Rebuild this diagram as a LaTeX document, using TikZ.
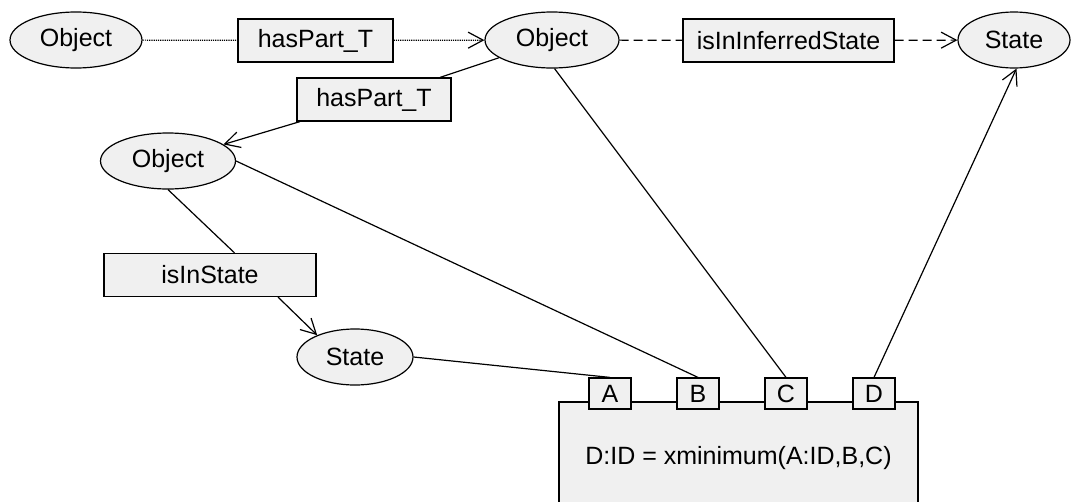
\documentclass[tikz,border=0pt]{standalone}
\usepackage{fontspec}
\setmainfont{Liberation Sans}
\usetikzlibrary{arrows.meta, shapes.geometric}

\definecolor{boxgray}{RGB}{240,240,240}

\tikzset{
  concept/.style={ellipse, draw, fill=boxgray, line width=1.2pt, inner sep=0pt,
    minimum height=56pt, font=\fontsize{25}{30}\selectfont},
  relation/.style={rectangle, draw, fill=boxgray, line width=1.2pt, inner sep=0pt,
    minimum height=43pt, font=\fontsize{25}{30}\selectfont},
  port/.style={rectangle, draw, fill=boxgray, line width=1.2pt, inner sep=0pt,
    minimum width=42pt, minimum height=31pt, font=\fontsize{25}{30}\selectfont},
  fnbox/.style={rectangle, draw, fill=boxgray, line width=1.2pt, inner sep=0pt,
    font=\fontsize{25}{30}\selectfont},
  link/.style={line width=1.2pt},
  dashline/.style={dash pattern=on 9pt off 5pt},
  barb/.style={-{Straight Barb[length=15pt,width=16pt]}},
}

\begin{document}
\begin{tikzpicture}[x=1pt, y=-1pt]
  \useasboundingbox (0,0) rectangle (1071,501);

  % top row
  \node[concept, minimum width=132pt] (obj1) at (76,40) {Object};
  \node[relation, minimum width=155pt] (haspart1) at (315.5,40.5) {hasPart\_T};
  \node[concept, minimum width=134pt] (obj2) at (552,40) {Object};
  \node[relation, minimum width=211pt] (inferred) at (788.5,40.5) {isInInferredState};
  \node[concept, minimum width=112pt] (state1) at (1014,40) {State};

  % part and its state
  \node[relation, minimum width=154pt] (haspart2) at (374,99.5) {hasPart\_T};
  \node[concept, minimum width=135pt] (obj3) at (168,161) {Object};
  \node[relation, minimum width=212pt] (instate) at (210,275) {isInState};
  \node[concept, minimum width=116pt] (state2) at (355,357) {State};

  % function block with its ports
  \node[fnbox, minimum width=359pt, minimum height=112pt] (func) at (738.5,458) {D:ID = xminimum(A:ID,B,C)};
  \foreach \p/\x in {A/610, B/698, C/786, D/874}
    \node[port] (\p) at (\x,393.5) {\p};

  % connectors
  \draw[link, densely dotted] (obj1) -- (haspart1);
  \draw[link, densely dotted, barb] (haspart1) -- (obj2);
  \draw[link, dashline] (obj2) -- (inferred);
  \draw[link, dashline, barb] (inferred) -- (state1);
  \draw[link] (obj2) -- (haspart2);
  \draw[link, barb] (haspart2) -- (obj3);
  \draw[link] (obj3.south) -- (instate.42);
  \draw[link, barb] (instate.-18) -- (state2.150);
  \draw[link] (state2.east) -- (A.north);
  \draw[link] (obj3.east) -- (B.north);
  \draw[link] (obj2.-85) -- (C.north);
  \draw[link, barb] (D.north) -- (state1.-85);
\end{tikzpicture}
\end{document}
